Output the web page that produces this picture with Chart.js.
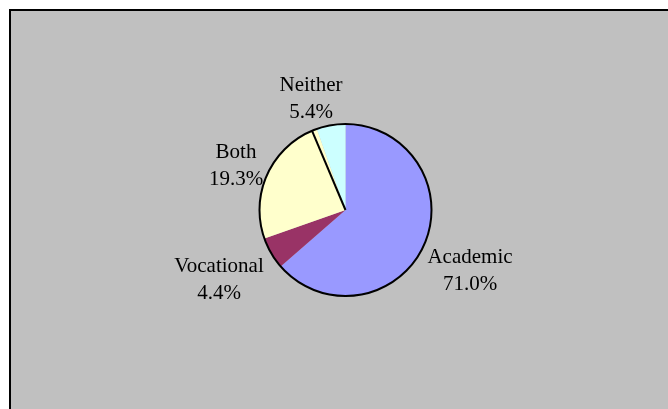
<!DOCTYPE html>
<html>
<head>
<meta charset="utf-8">
<script src="https://cdn.jsdelivr.net/npm/chart.js@4"></script>
<style>
    html, body { margin: 0; padding: 0; background: #ffffff; overflow: hidden; }
    #frame {
        position: absolute;
        left: 9px; top: 9px;
        width: 680px; height: 420px;
        background: #c0c0c0;
        border-top: 2px solid #000;
        border-left: 2px solid #000;
    }
    #pieChart { position: absolute; left: 0; top: 0; }
</style>
</head>
<body>
<div id="frame"></div>
<canvas id="pieChart" width="668" height="409"></canvas>
<script>
// ==================== Data ====================
const categories = ['Academic', 'Vocational', 'Both', 'Neither'];
// slice sizes as drawn in the picture
const sliceValues = [63.6, 6.0, 25.0, 5.4];
// percentages printed on the labels
const labelPercents = ['71.0%', '4.4%', '19.3%', '5.4%'];
const sliceColors = ['#9999ff', '#993366', '#ffffcc', '#ccffff'];

// label placement (center x, first baseline), tuned to the reference
const labelAnchors = [
    { x: 470, y: 263 },
    { x: 219, y: 272 },
    { x: 236, y: 158 },
    { x: 311, y: 91 }
];

// ==================== Plugins ====================
const pieDecor = {
    id: 'pieDecor',
    afterDatasetsDraw(chart) {
        const ctx = chart.ctx;
        const arcs = chart.getDatasetMeta(0).data;
        const first = arcs[0];

        ctx.save();
        // outline around the pie
        ctx.beginPath();
        ctx.arc(first.x, first.y, first.outerRadius, 0, Math.PI * 2);
        ctx.lineWidth = 2;
        ctx.strokeStyle = '#000';
        ctx.stroke();

        // dark edge just inside the Both / Neither boundary
        const edge = arcs[2].endAngle - 0.06;
        ctx.beginPath();
        ctx.moveTo(first.x, first.y);
        ctx.lineTo(first.x + Math.cos(edge) * first.outerRadius, first.y + Math.sin(edge) * first.outerRadius);
        ctx.stroke();

        // labels
        ctx.fillStyle = '#000';
        ctx.font = '21px "Liberation Serif", "Times New Roman", serif';
        ctx.textAlign = 'center';
        ctx.textBaseline = 'alphabetic';
        categories.forEach((name, i) => {
            const a = labelAnchors[i];
            ctx.fillText(name, a.x, a.y);
            ctx.fillText(labelPercents[i], a.x, a.y + 27);
        });
        ctx.restore();
    }
};

// ==================== Chart ====================
const pieCtx = document.getElementById('pieChart').getContext('2d');
const pieChart = new Chart(pieCtx, {
    type: 'pie',
    data: {
        labels: categories,
        datasets: [{
            data: sliceValues,
            backgroundColor: sliceColors,
            borderWidth: 0
        }]
    },
    options: {
        responsive: false,
        animation: false,
        layout: {
            padding: { left: 259.5, right: 236.5, top: 124, bottom: 113 }
        },
        plugins: {
            legend: { display: false },
            tooltip: { enabled: false }
        }
    },
    plugins: [pieDecor]
});
</script>
</body>
</html>
